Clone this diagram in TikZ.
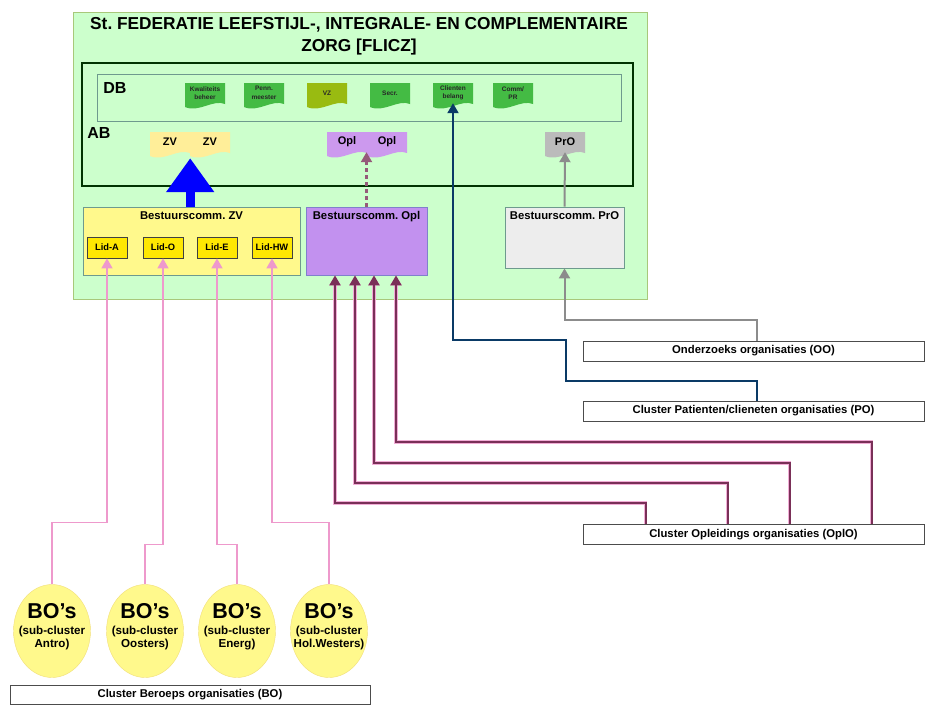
\documentclass[tikz,border=0pt]{standalone}
\usepackage{fontspec}
\setmainfont{Liberation Sans}
\usetikzlibrary{arrows.meta,calc,shapes.geometric}
\frenchspacing
\definecolor{grfill}{HTML}{CCFFCC}
\definecolor{grborder}{HTML}{A8C87A}
\definecolor{dbgreen}{HTML}{44BB44}
\definecolor{vzgreen}{HTML}{99BB11}
\definecolor{zvyellow}{HTML}{FFEE99}
\definecolor{oplpurple}{HTML}{CC99EE}
\definecolor{progrey}{HTML}{BBBBBB}
\definecolor{pinkline}{HTML}{EE99CC}
\definecolor{oplline}{HTML}{7A3058}
\definecolor{poblue}{HTML}{0A3A66}
\definecolor{commborder}{HTML}{6E9A8E}
\def\docbox[#1][#2](#3,#4)#5#6{%
	\fill[#1] (#3-20,#4-10) -- (#3+20,#4-10) -- (#3+20,#4+11) .. controls (#3+8,#4+6) and (#3-6,#4+20) .. (#3-20,#4+14) -- cycle;
	\node[#2] (#5) at (#3,#4) {#6};}

\begin{document}
\begin{tikzpicture}[x=1pt, y=-1pt,
		doctext/.style={minimum width=40pt, minimum height=20pt, inner sep=0pt, align=center},
		dbtext/.style={doctext, text=black!85, font=\bfseries\fontsize{6.5}{8.5}\selectfont},
		abtext/.style={doctext, font=\bfseries\fontsize{11}{12}\selectfont},
		comm/.style={draw=commborder, line width=0.8pt, inner sep=3pt},
		commtext/.style={font=\bfseries\fontsize{11.3}{13}\selectfont, anchor=north, inner xsep=3pt, inner ysep=5pt},
		lid/.style={draw=black!75, fill=yellow!90!orange, line width=0.8pt, minimum width=40pt, minimum height=21pt, inner sep=0pt, font=\bfseries\fontsize{9.3}{10}\selectfont},
		bocirc/.style={ellipse, draw=yellow!60!brown!60, fill=yellow!45, minimum width=77pt, minimum height=93pt, inner sep=0pt},
		botext/.style={align=center, inner sep=0pt, font=\bfseries\fontsize{11.6}{13}\selectfont},
		orgbox/.style={draw=black!70, fill=white, line width=0.8pt, minimum width=341pt, minimum height=20pt, inner sep=0pt, font=\bfseries\fontsize{11.3}{13}\selectfont},
		pinkarr/.style={draw=pinkline, line width=1.6pt, -{Triangle[length=10pt,width=11pt]}},
		oplarr/.style={draw=oplline, line width=2pt, preaction={draw=pinkline!80, line width=3.6pt}, -{Triangle[length=10pt,width=11pt]}},
		greyarr/.style={draw=black!45, line width=2pt, -{Triangle[length=10pt,width=11pt]}},
		bluearr/.style={draw=poblue, line width=2pt, -{Triangle[length=10pt,width=11pt]}}]
		%%%%% START %%%%%
		\useasboundingbox (0,0) rectangle (925,704);
		
		\draw[fill=grfill, draw=grborder, line width=1pt] (73,12) rectangle (647,299);
		\node[align=center, font=\bfseries\fontsize{17.3}{22}\selectfont] (title) at (359,36) {St. FEDERATIE LEEFSTIJL-, INTEGRALE- EN COMPLEMENTAIRE\\ZORG [FLICZ]};
		
		\draw[draw=black!80!green, line width=1.2pt] (82,63) rectangle (633,186);
		\draw[draw=commborder, line width=0.8pt] (97,74) rectangle (621,121);
		\node[font=\bfseries\fontsize{16}{18}\selectfont] (db) at (115,88) {DB};
		\node[font=\bfseries\fontsize{16}{18}\selectfont] (ab) at (99,133) {AB};
		
		\docbox[dbgreen][dbtext](205,93){kwal}{Kwaliteits\\beheer}
		\docbox[dbgreen][dbtext](264,93){penn}{Penn.\\meester}
		\docbox[vzgreen][dbtext](327,93){vz}{VZ}
		\docbox[dbgreen][dbtext](390,93){secr}{Secr.}
		\docbox[dbgreen][dbtext](453,93){clb}{Clienten\\belang}
		\docbox[dbgreen][dbtext](513,93){comm}{Comm/\\PR}
		
		\docbox[zvyellow][abtext](170,142){zva}{ZV}
		\docbox[zvyellow][abtext](210,142){zvb}{ZV}
		\docbox[oplpurple][abtext](347,142){opla}{Opl}
		\docbox[oplpurple][abtext](387,142){oplb}{Opl}
		\docbox[progrey][abtext](565,142){pro}{PrO}
		
		\node[comm, fill=yellow!45, minimum width=217pt, minimum height=68pt] (bzv) at (191.5,241) {};
		\node[commtext] (bzvtitle) at (bzv.north) {Bestuurscomm. ZV};
		\node[comm, fill=oplpurple!95!blue, draw=black!40!blue!50, minimum width=121pt, minimum height=68pt] (bopl) at (366.5,241) {};
		\node[commtext] (bopltitle) at (bopl.north) {Bestuurscomm. Opl};
		\node[comm, fill=black!7, minimum width=119pt, minimum height=61pt] (bpro) at (564.5,237.5) {};
		\node[commtext] (bprotitle) at (bpro.north) {Bestuurscomm. PrO};
		
		\node[lid] (lida) at (107,247.5) {Lid-A};
		\node[lid] (lido) at (163,247.5) {Lid-O};
		\node[lid] (lide) at (217,247.5) {Lid-E};
		\node[lid] (lidhw) at (272,247.5) {Lid-HW};
		
		\draw[blue, line width=9pt, -{Triangle[length=34pt,width=46pt]}] (bzv.north -| zva.south east) -- ([yshift=-6pt]zva.south east);
		\draw[oplline!80, line width=2.2pt, dash pattern=on 4pt off 3pt, -{Triangle[length=10pt,width=11pt]}] (bopl.north) -- (bopl.north |- opla.south east);
		\draw[greyarr] (bpro.north) -- (pro.south);
		
		\node[bocirc] (bo1) at (52,631) {};
		\node[bocirc] (bo2) at (145,631) {};
		\node[bocirc] (bo3) at (237,631) {};
		\node[bocirc] (bo4) at (329,631) {};
		\node[botext] (bo1t) at (52,627) {{\fontsize{21.5}{24}\selectfont BO’s}\\[3pt](sub-cluster\\Antro)};
		\node[botext] (bo2t) at (145,627) {{\fontsize{21.5}{24}\selectfont BO’s}\\[3pt](sub-cluster\\Oosters)};
		\node[botext] (bo3t) at (237,627) {{\fontsize{21.5}{24}\selectfont BO’s}\\[3pt](sub-cluster\\Energ)};
		\node[botext] (bo4t) at (329,627) {{\fontsize{21.5}{24}\selectfont BO’s}\\[3pt](sub-cluster\\Hol.Westers)};
		\node[orgbox, minimum width=360pt, minimum height=19pt] (bo) at (190,695) {Cluster Beroeps organisaties (BO)};
		
		\node[orgbox] (oo) at (753.5,351) {Onderzoeks organisaties (OO)};
		\node[orgbox] (po) at (753.5,411) {Cluster Patienten/clieneten organisaties (PO)};
		\node[orgbox] (oplo) at (753.5,534.5) {Cluster Opleidings organisaties (OplO)};
		
		\draw[pinkarr] (bo1.north) -- ++(0,-62) -| (lida.south);
		\draw[pinkarr] (bo2.north) -- ++(0,-40) -| (lido.south);
		\draw[pinkarr] (bo3.north) -- ++(0,-40) -| (lide.south);
		\draw[pinkarr] (bo4.north) -- ++(0,-62) -| (lidhw.south);
		
		\draw[oplarr] ([xshift=-108pt]oplo.north) -- ++(0,-21) -| ([xshift=-31.5pt]bopl.south);
		\draw[oplarr] ([xshift=-26pt]oplo.north) -- ++(0,-41) -| ([xshift=-11.5pt]bopl.south);
		\draw[oplarr] ([xshift=36pt]oplo.north) -- ++(0,-61) -| ([xshift=7.5pt]bopl.south);
		\draw[oplarr] ([xshift=118pt]oplo.north) -- ++(0,-82) -| ([xshift=29.5pt]bopl.south);
		
		\draw[greyarr] ([xshift=3pt]oo.north) -- ++(0,-21) -| (bpro.south);
		
		\coordinate (bend) at (566,340);
		\draw[bluearr] ([xshift=3pt]po.north) -- ++(0,-20) -| (bend) -| (clb.south);
		
		%%%%% END %%%%%
\end{tikzpicture}
\end{document}
